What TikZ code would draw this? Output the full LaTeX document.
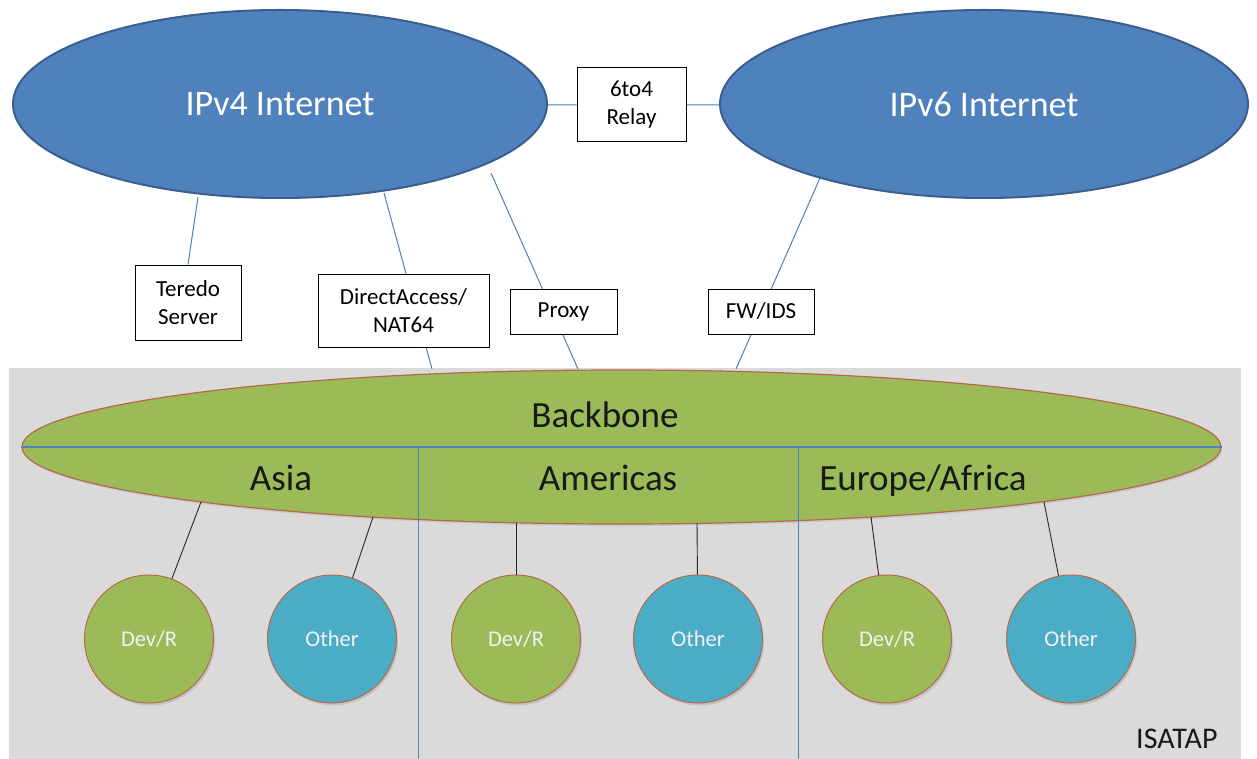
\documentclass[tikz,border=0pt]{standalone}
\usepackage{fontspec}
\setmainfont{Carlito}
\usetikzlibrary{shapes.geometric,shadows}
\definecolor{ipblue}{HTML}{4F81BD}
\definecolor{ipedge}{HTML}{3A5F8C}
\definecolor{bbgreen}{HTML}{9BBB59}
\definecolor{bbedge}{HTML}{B8684A}
\definecolor{othblue}{HTML}{4BACC6}
\definecolor{bggray}{HTML}{DADADA}
\definecolor{lineblue}{HTML}{4F81BD}
\begin{document}
\begin{tikzpicture}[x=1pt,y=-1pt,
  bigell/.style={ellipse, draw=ipedge, line width=2pt, fill=ipblue, text=white,
    inner sep=0pt, font=\fontsize{36}{40}\selectfont},
  boxnode/.style={draw=black, line width=1pt, fill=white, align=center,
    inner sep=0pt, font=\fontsize{23}{28}\selectfont},
  blueline/.style={draw=lineblue, line width=1pt},
  blackline/.style={draw=black!85, line width=0.9pt},
  region/.style={anchor=base, font=\fontsize{37}{42}\selectfont, text=black!90},
  site/.style={ellipse, draw=bbedge, line width=1pt, minimum width=129pt, minimum height=128pt,
    inner sep=0pt, text=white!95!black, font=\fontsize{22.5}{26}\selectfont,
    drop shadow={opacity=0.25, shadow xshift=1.5pt, shadow yshift=-2.5pt}},
  devnode/.style={site, fill=bbgreen},
  othnode/.style={site, fill=othblue}
]
\useasboundingbox (0,0) rectangle (1257,759);
\fill[white] (0,0) rectangle (1257,759);

% ISATAP area
\fill[bggray] (9,368) rectangle (1241,759);

% Backbone
\node[ellipse, draw=bbedge, line width=1.2pt, fill=bbgreen, minimum width=1199pt, minimum height=154pt,
  inner sep=0pt, drop shadow={opacity=0.2, shadow xshift=1pt, shadow yshift=-2pt}] (bb) at (621.5,447) {};
\draw[blueline, line width=1.4pt] (bb.west) -- (bb.east);
\coordinate (s1t) at (418,448);
\coordinate (s1b) at (418,759);
\coordinate (s2t) at (798,448);
\coordinate (s2b) at (798,759);
\draw[blueline] (s1t) -- (s1b);
\draw[blueline] (s2t) -- (s2b);

\node[region] (lbb) at (605,427) {Backbone};
\node[region] (lasia) at (281,490) {Asia};
\node[region] (lam) at (608,490) {Americas};
\node[region] (leu) at (923,490) {Europe/Africa};
\node[anchor=base east, font=\fontsize{30}{34}\selectfont, text=black!90] (isatap) at (1221,748) {ISATAP};

% Sites
\node[devnode] (d1) at (149,639) {Dev/R};
\node[othnode] (o1) at (332,639) {Other};
\node[devnode] (d2) at (516,639) {Dev/R};
\node[othnode] (o2) at (698,639) {Other};
\node[devnode] (d3) at (887,639) {Dev/R};
\node[othnode] (o3) at (1071,639) {Other};

\coordinate (bd1) at (201,502);
\coordinate (bo1) at (373,517);
\coordinate (bd2) at (516,523);
\coordinate (bo2) at (697,523);
\coordinate (bd3) at (871,517);
\coordinate (bo3) at (1044,502);
\draw[blackline] (d1) -- (bd1);
\draw[blackline] (o1) -- (bo1);
\draw[blackline] (d2) -- (bd2);
\draw[blackline] (o2) -- (bo2);
\draw[blackline] (d3) -- (bd3);
\draw[blackline] (o3) -- (bo3);

% Top connectors (behind boxes)
\coordinate (v4t) at (198,197);
\coordinate (v4d) at (384,193);
\coordinate (bbd) at (432,369);
\coordinate (v4p) at (491,173);
\coordinate (bbp) at (578,369);
\coordinate (v6f) at (820,178);
\coordinate (bbf) at (736,369);
\draw[blueline] (v4d) -- (bbd);
\draw[blueline] (v4p) -- (bbp);
\draw[blueline] (v6f) -- (bbf);

% Boxes
\node[boxnode, minimum width=106pt, minimum height=75pt] (teredo) at (188,302.5) {Teredo\\Server};
\node[boxnode, minimum width=171pt, minimum height=73pt] (da) at (403.5,310.5) {DirectAccess/\\NAT64};
\node[boxnode, minimum width=107pt, minimum height=45pt] (proxy) at (563.5,311.5) {Proxy};
\node[boxnode, minimum width=106pt, minimum height=45pt] (fw) at (761,311.5) {FW/IDS};
\node[boxnode, minimum width=109pt, minimum height=74pt] (relay) at (631.5,105) {6to4\\Relay};

\draw[blueline] (v4t) -- (teredo.north);

% Internets
\node[bigell, minimum width=534pt, minimum height=188pt] (v4) at (280,104) {IPv4 Internet};
\node[bigell, minimum width=528pt, minimum height=188pt] (v6) at (984,104) {IPv6 Internet};
\draw[blueline] (v4) -- (relay);
\draw[blueline] (relay) -- (v6);
\end{tikzpicture}
\end{document}
